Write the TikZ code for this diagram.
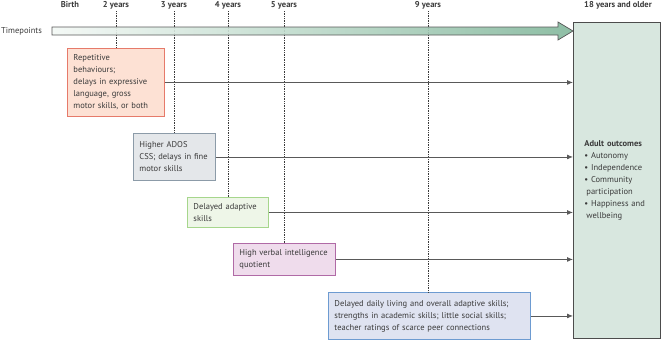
\documentclass[tikz,border=0pt]{standalone}
\usepackage{fontspec}
\setmainfont{PT Sans}
\usetikzlibrary{arrows.meta,positioning}
\definecolor{txt}{HTML}{3A3A3A}
\definecolor{redln}{HTML}{E67A6A}
\definecolor{redfl}{HTML}{FDE1D4}
\definecolor{grayln}{HTML}{8C9BA8}
\definecolor{grayfl}{HTML}{E4E7EA}
\definecolor{grnln}{HTML}{A6D68C}
\definecolor{grnfl}{HTML}{EEF6E8}
\definecolor{purln}{HTML}{B06AA6}
\definecolor{purfl}{HTML}{EFDCEC}
\definecolor{bluln}{HTML}{6D9BD1}
\definecolor{blufl}{HTML}{DFE3F1}
\definecolor{adfl}{HTML}{D8E7DF}
\definecolor{tlA}{HTML}{F3F8F5}
\definecolor{tlB}{HTML}{82B79B}
\begin{document}
\begin{tikzpicture}[x=1pt,y=-1pt,font=\fontsize{8.5}{12}\selectfont,text=txt,
  box/.style={draw,line width=0.9pt,anchor=north west,align=left,inner xsep=6pt,inner ysep=0pt},
  yr/.style={font=\fontsize{8.5}{12}\selectfont\bfseries,inner sep=2pt},
  tick/.style={densely dotted,line width=0.7pt,draw=txt},
  flow/.style={draw=black!65,line width=0.8pt,-{Latex[length=6pt,width=5pt]}}]
\useasboundingbox (0,0) rectangle (661,340);
% age labels
\node[yr] (birth) at (70,5) {Birth};
\node[yr] (y2) at (116,5) {2 years};
\node[yr] (y3) at (174,5) {3 years};
\node[yr] (y4) at (228,5) {4 years};
\node[yr] (y5) at (284,5) {5 years};
\node[yr] (y9) at (428,5) {9 years};
\node[yr] (y18) at (618,5) {18 years and older};
\node[anchor=west,inner sep=1pt] (tp) at (0,31) {Timepoints};
% boxes
\node[box,draw=redln,fill=redfl,text width=85pt,minimum height=68pt] (b1) at (67,48)
  {Repetitive\\behaviours;\\delays in expressive\\language, gross\\motor skills, or both};
\node[box,draw=grayln,fill=grayfl,text width=70pt,minimum height=47pt] (b2) at (133,133)
  {Higher ADOS\\CSS; delays in fine\\motor skills};
\node[box,draw=grnln,fill=grnfl,text width=69pt,minimum height=30pt] (b3) at (187,197)
  {Delayed adaptive\\skills};
\node[box,draw=purln,fill=purfl,text width=90pt,minimum height=32pt] (b4) at (233,243)
  {High verbal intelligence\\quotient};
\node[box,draw=bluln,fill=blufl,text width=190pt,minimum height=47pt] (b5) at (328,292)
  {Delayed daily living and overall adaptive skills;\\strengths in academic skills; little social skills;\\teacher ratings of scarce peer connections};
\node[box,draw=black!70,fill=adfl,line width=0.8pt,inner xsep=11pt,text width=65pt,minimum height=316pt] (adult) at (573,22)
  {\textbf{Adult outcomes}\\
   \textbullet\ Autonomy\\
   \textbullet\ Independence\\
   \textbullet\ Community\\
   \hspace{2pt}participation\\
   \textbullet\ Happiness and\\
   \hspace{2pt}wellbeing};
% dotted ticks
\draw[tick] (y2.south) -- (y2.south |- b1.north);
\draw[tick] (y3.south) -- (y3.south |- b2.north);
\draw[tick] (y4.south) -- (y4.south |- b3.north);
\draw[tick] (y5.south) -- (y5.south |- b4.north);
\draw[tick] (y9.south) -- (y9.south |- b5.north);
% timeline
\shadedraw[left color=tlA,right color=tlB,draw=black!65,line width=0.7pt,fill opacity=0.9]
  (52,27) -- (558,27) -- (558,22) -- (573,31) -- (558,40) -- (558,35) -- (52,35) -- cycle;
% links
\draw[flow] (b1.east) -- (b1.east -| adult.west);
\draw[flow] (b2.east) -- (b2.east -| adult.west);
\draw[flow] (b3.east) -- (b3.east -| adult.west);
\draw[flow] (b4.east) -- (b4.east -| adult.west);
\draw[flow] (b5.east) -- (b5.east -| adult.west);
\end{tikzpicture}
\end{document}
